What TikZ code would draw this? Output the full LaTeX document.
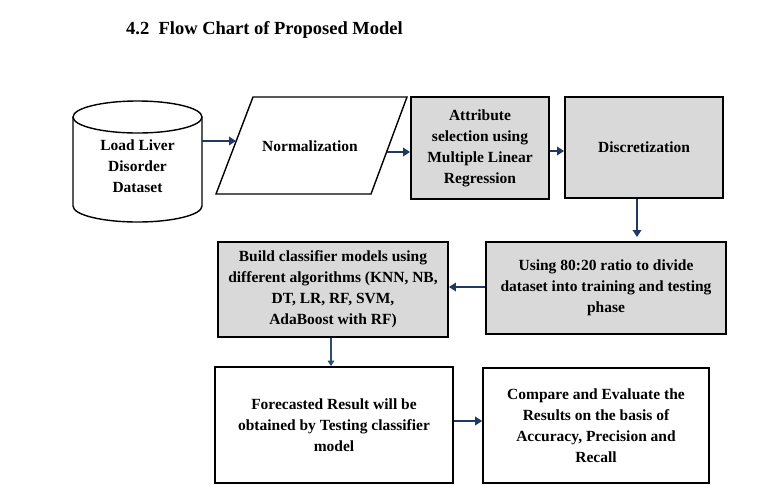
\documentclass[tikz,border=0pt]{standalone}
\usepackage{fontspec}
\setmainfont{Liberation Serif}
\usetikzlibrary{arrows.meta}
\definecolor{navy}{HTML}{1F3864}
\definecolor{navylight}{HTML}{2F4B74}
\definecolor{boxgray}{HTML}{D9D9D9}
\begin{document}
\begin{tikzpicture}[x=1pt,y=-1pt,
  txt/.style={font=\bfseries\fontsize{15.5}{21}\selectfont, align=center},
  gbox/.style={draw, line width=1.9pt, fill=boxgray, inner sep=0pt, txt},
  wbox/.style={draw, line width=1.7pt, fill=white, inner sep=0pt, txt},
  arr/.style={draw=navy, line width=2.4pt, -{Triangle[length=7pt,width=8.5pt]}},
  arrthin/.style={draw=navylight, line width=1.4pt, -{Triangle[length=5.5pt,width=6.5pt]}},
  outline/.style={draw, line width=1.4pt, fill=white}]
\useasboundingbox (0,0) rectangle (764,499);
\fill[white] (0,0) rectangle (764,499);
% title
\node[font=\bfseries\fontsize{18.5}{22}\selectfont, anchor=west, inner sep=0pt] (title) at (126,30) {4.2\ \ Flow Chart of Proposed Model};
% cylinder
\draw[outline] (73,117) -- (73,206) arc[start angle=180, end angle=0, x radius=64.5, y radius=16] -- (202,117);
\draw[outline] (137.5,117) ellipse [x radius=64.5, y radius=16];
\node[txt, minimum width=129pt, inner sep=0pt] (db) at (137.5,166) {Load Liver\\Disorder\\Dataset};
% parallelogram
\draw[outline] (253,97) -- (407,97) -- (371,194) -- (216,194) -- cycle;
\node[txt] (norm) at (310,146) {Normalization};
\coordinate (normL) at (236,141);
\coordinate (normR) at (387,152);
% boxes
\node[gbox, minimum width=138pt, minimum height=102pt] (attr) at (480,148) {Attribute\\selection using\\Multiple Linear\\Regression};
\node[gbox, minimum width=158pt, minimum height=101pt] (disc) at (644,147.5) {Discretization};
\node[gbox, minimum width=240pt, minimum height=92pt] (using) at (606,288) {Using 80:20 ratio to divide\\dataset into training and testing\\phase};
\node[gbox, minimum width=230pt, minimum height=95pt] (build) at (333,289.5) {Build classifier models using\\different algorithms (KNN, NB,\\DT, LR, RF, SVM,\\AdaBoost with RF)};
\node[wbox, minimum width=238pt, minimum height=116pt] (fore) at (334,425) {Forecasted Result will be\\obtained by Testing classifier\\model};
\node[wbox, minimum width=226pt, minimum height=115pt] (comp) at (596,425.5) {Compare and Evaluate the\\Results on the basis of\\Accuracy, Precision and\\Recall};
% connectors
\draw[arr] ([yshift=25pt]db.east) -- (normL);
\draw[arr] (normR) -- (normR -| attr.west);
\draw[arr] ([yshift=-3pt]attr.east) -- ([yshift=-3pt]attr.east -| disc.west);
\draw[arr, shorten >=4pt] ([xshift=-7pt]disc.south) -- ([xshift=-7pt]disc.south |- using.north);
\draw[arr] ([yshift=1pt]using.west) -- ([yshift=1pt]using.west -| build.east);
\draw[arrthin] ([xshift=-2pt]build.south) -- ([xshift=-2pt]build.south |- fore.north);
\draw[arr] ([yshift=4pt]fore.east) -- ([yshift=4pt]fore.east -| comp.west);
\end{tikzpicture}
\end{document}
